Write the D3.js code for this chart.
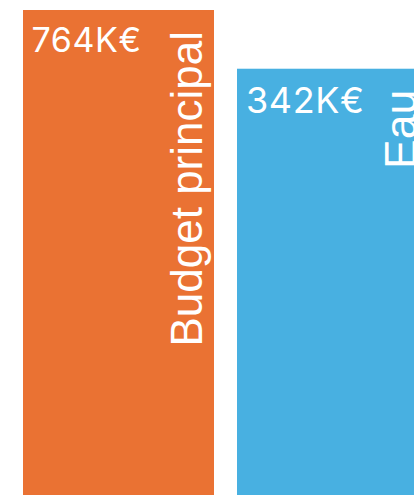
<!DOCTYPE html>
<html>
<head>
<meta charset="utf-8">
<script src="https://cdn.jsdelivr.net/npm/d3@7/dist/d3.min.js"></script>
<style>
  html, body { margin: 0; padding: 0; background: #fff; }
  svg { display: block; }
  text { fill: #fff; }
  .val { font-family: "Inter", "DejaVu Sans", sans-serif; letter-spacing: 0.6px; }
  .cat { font-family: "Liberation Sans", Arial, sans-serif; }
</style>
</head>
<body>
<svg id="chart" width="414" height="495"></svg>
<script>
const categories = ["Budget principal", "Eau"];
const values = [764, 342];            // K€
const valueLabels = ["764K€", "342K€"];

const colors = ["#EA7233", "#48B0E1"];
const valueFont = [34, 36];
const catFont = [44, 44.5];

const W = 414, H = 495;
const svg = d3.select("#chart");

const x = d3.scaleBand()
  .domain(categories)
  .range([23, 428])
  .paddingInner(23 / 214)
  .paddingOuter(0);

const y = d3.scaleLog()
  .domain([1, d3.max(values)])
  .range([H, 10]);

const g = svg.selectAll("g.bar")
  .data(categories.map((c, i) => ({ c, v: values[i], label: valueLabels[i], color: colors[i], vf: valueFont[i], cf: catFont[i] })))
  .join("g")
  .attr("class", "bar");

g.append("rect")
  .attr("x", d => x(d.c))
  .attr("y", d => y(d.v))
  .attr("width", x.bandwidth())
  .attr("height", d => H - y(d.v))
  .attr("fill", d => d.color);

g.append("text")
  .attr("class", "val")
  .attr("x", d => x(d.c) + 0.25 * d.vf)
  .attr("y", d => y(d.v) + 1.23 * d.vf)
  .attr("font-size", d => d.vf)
  .text(d => d.label);

g.append("text")
  .attr("class", "cat")
  .attr("transform", d => `translate(${x(d.c) + x.bandwidth() - 0.27 * d.cf},${y(d.v) + 21}) rotate(-90)`)
  .attr("text-anchor", "end")
  .attr("font-size", d => d.cf)
  .text(d => d.c);
</script>
</body>
</html>
